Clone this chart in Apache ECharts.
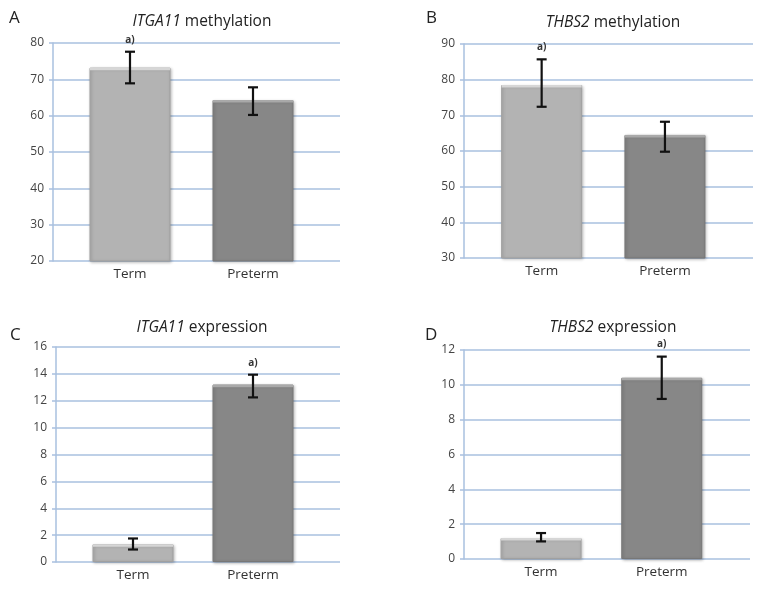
<!DOCTYPE html>
<html><head><meta charset="utf-8">
<script src="https://cdn.jsdelivr.net/npm/echarts@6/dist/echarts.min.js"></script>
<style>html,body{margin:0;padding:0;background:#fff}#c{width:760px;height:591px}</style>
</head><body><div id="c"></div>
<script>
var categories = ['Term', 'Preterm'];
var panelLetters = ['A', 'B', 'C', 'D'];
var geneNames = ['ITGA11', 'THBS2', 'ITGA11', 'THBS2'];
var measureNames = ['methylation', 'methylation', 'expression', 'expression'];

var meansA = [73.2, 64.3];
var lowA = [68.9, 60.2];
var highA = [77.6, 67.8];
var sigA = [1, 0];

var meansB = [78.5, 64.5];
var lowB = [72.4, 59.8];
var highB = [85.7, 68.2];
var sigB = [1, 0];

var meansC = [1.32, 13.2];
var lowC = [0.93, 12.25];
var highC = [1.75, 13.94];
var sigC = [0, 1];

var meansD = [1.2, 10.4];
var lowD = [1.01, 9.19];
var highD = [1.49, 11.62];
var sigD = [0, 1];

var yMin = [20, 30, 0, 0];
var yMax = [80, 90, 16, 12];
var yStep = [10, 10, 2, 2];

var panels = [
  {m: meansA, lo: lowA, hi: highA, s: sigA},
  {m: meansB, lo: lowB, hi: highB, s: sigB},
  {m: meansC, lo: lowC, hi: highC, s: sigC},
  {m: meansD, lo: lowD, hi: highD, s: sigD}
];

// layout (pixels)
var bgBoxes = [
  {l: 53, r: 340, t: 43, b: 261},
  {l: 464, r: 753, t: 44, b: 258},
  {l: 56, r: 340, t: 347, b: 562},
  {l: 464, r: 750, t: 350, b: 559}
];
var barBoxes = [
  {l: 68.5, w: 246},
  {l: 480, w: 246.6},
  {l: 73, w: 240},
  {l: 480.7, w: 241.4}
];
var titlePos = [
  {x: 197, y: 9}, {x: 608, y: 10}, {x: 197, y: 315}, {x: 608, y: 315}
];
var letterPos = [
  {x: 4, y: 5}, {x: 421, y: 5}, {x: 5, y: 322}, {x: 420, y: 322}
];

var barColors = ['#b3b3b3', '#878787'];
var barTopColors = ['#d6d6d6', '#a9a9a9'];
var gridColor = '#a9c0df';
var FONT = '"Open Sans", sans-serif';
var BARW = 81;

var grid = [], xAxis = [], yAxis = [], series = [], title = [];

panels.forEach(function (p, k) {
  var bg = bgBoxes[k], bb = barBoxes[k];
  grid.push({left: bg.l, width: bg.r - bg.l, top: bg.t, height: bg.b - bg.t, containLabel: false});
  grid.push({left: bb.l, width: bb.w, top: bg.t, height: bg.b - bg.t, containLabel: false});

  xAxis.push({type: 'category', gridIndex: 2 * k, data: [''], show: false});
  xAxis.push({
    type: 'category', gridIndex: 2 * k + 1, data: categories,
    axisLine: {show: false}, axisTick: {show: false},
    axisLabel: {color: '#333', fontSize: 13.5, fontFamily: FONT, margin: 6}
  });

  yAxis.push({
    type: 'value', gridIndex: 2 * k, min: yMin[k], max: yMax[k], interval: yStep[k],
    axisLine: {show: true, lineStyle: {color: gridColor, width: 1.5}},
    axisTick: {show: true, length: 4, lineStyle: {color: gridColor, width: 1.5}},
    splitLine: {show: true, lineStyle: {color: gridColor, width: 1.5}},
    axisLabel: {color: '#444', fontSize: 12, fontFamily: FONT, margin: 9}
  });
  yAxis.push({
    type: 'value', gridIndex: 2 * k + 1, min: yMin[k], max: yMax[k], interval: yStep[k], show: false
  });

  series.push({
    type: 'bar', xAxisIndex: 2 * k + 1, yAxisIndex: 2 * k + 1,
    barWidth: BARW,
    data: p.m.map(function (v, i) {
      return {value: v, itemStyle: {color: barColors[i], borderColor: i ? '#777' : '#a0a0a0', borderWidth: 1}};
    }),
    itemStyle: {shadowColor: 'rgba(0,0,0,0.25)', shadowBlur: 3, shadowOffsetX: 1, shadowOffsetY: 1},
    silent: true, animation: false
  });

  series.push({
    type: 'custom', xAxisIndex: 2 * k + 1, yAxisIndex: 2 * k + 1,
    data: p.m.map(function (v, i) { return [i, p.lo[i], p.hi[i], p.s[i], v]; }),
    renderItem: function (params, api) {
      var xi = api.value(0);
      var pHi = api.coord([xi, api.value(2)]);
      var pLo = api.coord([xi, api.value(1)]);
      var pTop = api.coord([xi, api.value(4)]);
      var i = params.dataIndex;
      var cap = 5;
      var children = [
        {type: 'rect', shape: {x: pTop[0] - BARW / 2 + 0.5, y: pTop[1], width: BARW - 1, height: 2.5},
         style: {fill: barTopColors[i]}},
        {type: 'line', shape: {x1: pHi[0], y1: pHi[1], x2: pLo[0], y2: pLo[1]}, style: {stroke: '#111', lineWidth: 2.2}},
        {type: 'line', shape: {x1: pHi[0] - cap, y1: pHi[1], x2: pHi[0] + cap, y2: pHi[1]}, style: {stroke: '#111', lineWidth: 2.2}},
        {type: 'line', shape: {x1: pLo[0] - cap, y1: pLo[1], x2: pLo[0] + cap, y2: pLo[1]}, style: {stroke: '#111', lineWidth: 2.2}}
      ];
      if (api.value(3)) {
        children.push({type: 'text', style: {text: 'a)', x: pHi[0], y: pHi[1] - 7, textAlign: 'center', textVerticalAlign: 'bottom',
          fill: '#333', font: 'bold 10px ' + FONT}});
      }
      return {type: 'group', children: children};
    },
    silent: true, animation: false, z: 5
  });

  title.push({
    text: '{i|' + geneNames[k] + '}{n| ' + measureNames[k] + '}',
    left: titlePos[k].x, top: titlePos[k].y, textAlign: 'center',
    textStyle: {fontWeight: 'normal', rich: {
      i: {fontStyle: 'italic', fontWeight: 'normal', fontSize: 15.5, color: '#222', fontFamily: FONT},
      n: {fontWeight: 'normal', fontSize: 15.5, color: '#222', fontFamily: FONT}
    }}
  });
  title.push({
    text: panelLetters[k], left: letterPos[k].x, top: letterPos[k].y,
    textStyle: {fontSize: 17, fontWeight: 'normal', color: '#222', fontFamily: FONT}
  });
});

var chart = echarts.init(document.getElementById('c'), null, {renderer: 'canvas'});
chart.setOption({
  animation: false,
  backgroundColor: '#ffffff',
  title: title, grid: grid, xAxis: xAxis, yAxis: yAxis, series: series
});
</script>
</body></html>
